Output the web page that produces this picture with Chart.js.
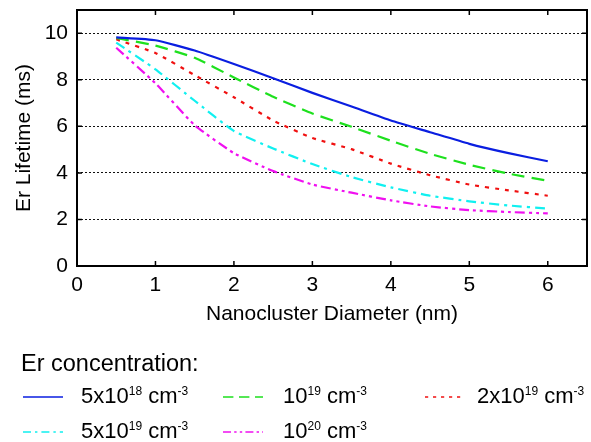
<!DOCTYPE html>
<html lang="en">
<head>
    <meta charset="UTF-8">
    <title>Er Lifetime vs Nanocluster Diameter</title>
    <style>
        body { margin: 0; background: #fff; }
        #wrap { position: relative; width: 591px; height: 442px; font-family: "Liberation Sans", Arial, sans-serif; color: #000; }
        #chart { position: absolute; left: 0; top: 0; }
        .leg { position: absolute; white-space: nowrap; font-size: 22px; line-height: 22px; }
        .leg sup { font-size: 12px; position: relative; top: -8px; vertical-align: baseline; line-height: 0; }
        .legHead { font-size: 23.5px; line-height: 23px; }
        .sample { position: absolute; }
    </style>
    <script src="https://cdn.jsdelivr.net/npm/chart.js"></script>
</head>
<body>
<div id="wrap">
    <canvas id="chart" width="591" height="442"></canvas>
    <div class="leg legHead" style="left:21px; top:352px;">Er concentration:</div>
    <div id="legend"></div>
</div>

<script>
    // nanocluster diameter (nm)
    const diameters = [0.5, 1.0, 1.5, 2.0, 2.5, 3.0, 3.5, 4.0, 4.5, 5.0, 5.5, 6.0];

    // Er lifetime (ms) for each Er concentration
    const er5e18 = [9.82, 9.70, 9.26, 8.68, 8.07, 7.44, 6.85, 6.25, 5.75, 5.25, 4.85, 4.50];
    const er1e19 = [9.80, 9.47, 8.95, 8.10, 7.27, 6.55, 5.98, 5.38, 4.82, 4.35, 3.97, 3.66];
    const er2e19 = [9.74, 9.15, 8.20, 7.25, 6.25, 5.50, 5.02, 4.40, 3.90, 3.50, 3.25, 3.02];
    const er5e19 = [9.60, 8.45, 7.10, 5.80, 5.05, 4.38, 3.82, 3.38, 3.02, 2.78, 2.60, 2.47];
    const er1e20 = [9.38, 7.85, 6.05, 4.85, 4.08, 3.50, 3.15, 2.82, 2.56, 2.40, 2.32, 2.26];

    const xTicks = [0, 1, 2, 3, 4, 5, 6];
    const yTicks = [0, 2, 4, 6, 8, 10];

    const series = [
        { label: '5x10<sup>18</sup> cm<sup>-3</sup>', data: er5e18, color: '#0a1ee0', dash: [] },
        { label: '10<sup>19</sup> cm<sup>-3</sup>', data: er1e19, color: '#1ee01e', dash: [13, 7] },
        { label: '2x10<sup>19</sup> cm<sup>-3</sup>', data: er2e19, color: '#f01010', dash: [4, 6] },
        { label: '5x10<sup>19</sup> cm<sup>-3</sup>', data: er5e19, color: '#10f0f0', dash: [10, 5, 3, 5] },
        { label: '10<sup>20</sup> cm<sup>-3</sup>', data: er1e20, color: '#f010f0', dash: [10, 4, 3, 4, 3, 4] }
    ];

    const FONT = "'Liberation Sans', Arial, sans-serif";

    // box around the plot with inward ticks
    const frame = {
        id: 'frame',
        afterDatasetsDraw(chart) {
            const ctx = chart.ctx;
            const a = chart.chartArea;
            const xs = chart.scales.x, ys = chart.scales.y;
            ctx.save();
            ctx.strokeStyle = '#000';
            ctx.lineWidth = 1.5;
            ctx.setLineDash([]);
            ctx.beginPath();
            xTicks.forEach(v => {
                const px = xs.getPixelForValue(v);
                ctx.moveTo(px, a.bottom); ctx.lineTo(px, a.bottom - 5);
                ctx.moveTo(px, a.top); ctx.lineTo(px, a.top + 5);
            });
            yTicks.forEach(v => {
                const py = ys.getPixelForValue(v);
                ctx.moveTo(a.left, py); ctx.lineTo(a.left + 5, py);
                ctx.moveTo(a.right, py); ctx.lineTo(a.right - 5, py);
            });
            ctx.stroke();
            ctx.lineWidth = 2;
            ctx.strokeRect(a.left, a.top, a.right - a.left, a.bottom - a.top);
            ctx.restore();
        }
    };

    new Chart(document.getElementById('chart'), {
        type: 'line',
        data: {
            datasets: series.map(s => ({
                label: s.label,
                data: s.data.map((v, i) => ({ x: diameters[i], y: v })),
                borderColor: s.color,
                borderDash: s.dash,
                borderWidth: 2.2,
                pointRadius: 0,
                tension: 0.15,
                fill: false
            }))
        },
        options: {
            responsive: false,
            animation: false,
            layout: { padding: { top: 10, right: 4, left: 0, bottom: 106 } },
            plugins: { legend: { display: false }, tooltip: { enabled: false } },
            scales: {
                x: {
                    type: 'linear',
                    min: 0,
                    max: 6.5,
                    afterFit: s => { s.height = 70; },
                    afterBuildTicks: s => { s.ticks = xTicks.map(v => ({ value: v })); },
                    grid: { display: false, drawTicks: false },
                    border: { display: false },
                    ticks: { color: '#000', padding: 7, font: { family: FONT, size: 21 } },
                    title: {
                        display: true,
                        text: 'Nanocluster Diameter (nm)',
                        color: '#000',
                        padding: { top: 4, bottom: 9 },
                        font: { family: FONT, size: 21 }
                    }
                },
                y: {
                    min: 0,
                    max: 11,
                    afterFit: s => { s.width = 77; s.paddingTop = 0; s.paddingBottom = 0; },
                    afterBuildTicks: s => { s.ticks = yTicks.map(v => ({ value: v })); },
                    grid: {
                        drawTicks: false,
                        lineWidth: 1,
                        color: c => (c.tick && c.tick.value === 0) ? 'rgba(0,0,0,0)' : '#111'
                    },
                    border: { display: false, dash: [2, 2] },
                    ticks: { color: '#000', padding: 9, font: { family: FONT, size: 21 } },
                    title: {
                        display: true,
                        text: 'Er Lifetime (ms)',
                        color: '#000',
                        padding: { top: 12, bottom: 0 },
                        font: { family: FONT, size: 21 }
                    }
                }
            }
        },
        plugins: [frame]
    });

    // legend below the chart (HTML so superscripts stay real text)
    const legendPos = [
        { sx: 23, tx: 81, y: 397 },
        { sx: 223, tx: 283, y: 397 },
        { sx: 425, tx: 477, y: 397 },
        { sx: 23, tx: 81, y: 432 },
        { sx: 223, tx: 283, y: 432 }
    ];
    const legend = document.getElementById('legend');
    series.forEach((s, i) => {
        const p = legendPos[i];
        const c = document.createElement('canvas');
        c.width = 40; c.height = 6;
        c.className = 'sample';
        c.style.left = p.sx + 'px';
        c.style.top = (p.y - 3) + 'px';
        const g = c.getContext('2d');
        g.strokeStyle = s.color;
        g.lineWidth = 1.5;
        g.setLineDash(s.dash.map(d => d * 0.8));
        g.beginPath(); g.moveTo(0, 3); g.lineTo(40, 3); g.stroke();
        legend.appendChild(c);

        const t = document.createElement('div');
        t.className = 'leg';
        t.style.left = p.tx + 'px';
        t.style.top = (p.y - 12) + 'px';
        t.innerHTML = s.label;
        legend.appendChild(t);
    });
</script>
</body>
</html>
